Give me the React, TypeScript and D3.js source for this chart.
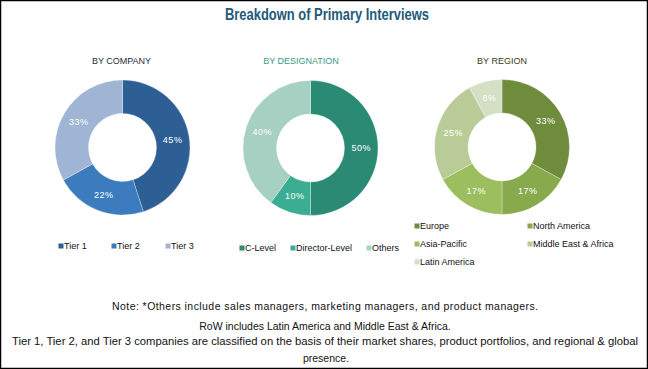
import React from "react";
import * as d3 from "d3";

const companyLabels = ["Tier 1", "Tier 2", "Tier 3"];
const companyValues = [45, 22, 33];
const companyColors = ["#2D5F94", "#3B7BBE", "#A0B4D3"];

const designationLabels = ["C-Level", "Director-Level", "Others"];
const designationValues = [50, 10, 40];
const designationColors = ["#2B8A74", "#3AAD93", "#A6D1C2"];

const regionLabels = ["Europe", "North America", "Asia-Pacific", "Middle East & Africa", "Latin America"];
const regionValues = [33, 17, 17, 25, 8];
const regionColors = ["#6F8C3C", "#88AA4C", "#9DBE5E", "#B9CC98", "#D4DFC5"];

const notes = [
  "Note: *Others include sales managers, marketing managers, and product managers.",
  "RoW includes Latin America and Middle East & Africa.",
  "Tier 1, Tier 2, and Tier 3 companies are classified on the basis of their market shares, product portfolios, and regional & global",
  "presence.",
];

type Donut = {
  title: string;
  titleColor: string;
  cx: number;
  cy: number;
  labels: string[];
  values: number[];
  colors: string[];
  legend: { x: number; y: number }[];
};

const donuts: Donut[] = [
  {
    title: "BY COMPANY",
    titleColor: "#1F2B3A",
    cx: 122.5,
    cy: 147.5,
    labels: companyLabels,
    values: companyValues,
    colors: companyColors,
    legend: [
      { x: 61, y: 246 },
      { x: 114, y: 246 },
      { x: 168, y: 246 },
    ],
  },
  {
    title: "BY DESIGNATION",
    titleColor: "#3A9A88",
    cx: 310.5,
    cy: 148,
    labels: designationLabels,
    values: designationValues,
    colors: designationColors,
    legend: [
      { x: 242, y: 248 },
      { x: 293, y: 248 },
      { x: 369, y: 248 },
    ],
  },
  {
    title: "BY REGION",
    titleColor: "#3C3C22",
    cx: 502,
    cy: 147,
    labels: regionLabels,
    values: regionValues,
    colors: regionColors,
    legend: [
      { x: 417, y: 226 },
      { x: 530, y: 226 },
      { x: 417, y: 244 },
      { x: 530, y: 244 },
      { x: 417, y: 262 },
    ],
  },
];

const titleX = [121.5, 301, 502];

export default function App() {
  const outerR = 67.5;
  const innerR = 34;
  const pie = d3.pie<number>().sort(null).value((d) => d);
  const arc = d3.arc<d3.PieArcDatum<number>>().innerRadius(innerR).outerRadius(outerR);
  const font = "'Liberation Sans', Arial, sans-serif";

  return (
    <svg width={648} height={369} style={{ position: "absolute", left: 0, top: 0 }}>
      <rect x={0.5} y={0.5} width={647} height={368} fill="#fff" stroke="#000" strokeWidth={1.5} />
      <text
        x={327}
        y={20}
        textAnchor="middle"
        fontFamily={font}
        fontWeight="bold"
        fontSize={16}
        fill="#215A7B"
        textLength={204}
        lengthAdjust="spacingAndGlyphs"
      >
        Breakdown of Primary Interviews
      </text>
      {donuts.map((dn, i) => {
        const arcs = pie(dn.values);
        return (
          <g key={dn.title}>
            <text x={titleX[i]} y={64} textAnchor="middle" fontFamily={font} fontSize={9} fill={dn.titleColor}>
              {dn.title}
            </text>
            <g transform={`translate(${dn.cx},${dn.cy})`}>
              {arcs.map((a, j) => (
                <path key={j} d={arc(a) || ""} fill={dn.colors[j]} stroke="#fff" strokeWidth={0.3} />
              ))}
              {arcs.map((a, j) => {
                const [x, y] = arc.centroid(a);
                return (
                  <text
                    key={"l" + j}
                    x={x}
                    y={y}
                    dy="0.35em"
                    textAnchor="middle"
                    fontFamily={font}
                    fontSize={9}
                    fill="#fff"
                    letterSpacing={0.5}
                  >
                    {dn.values[j]}%
                  </text>
                );
              })}
            </g>
            {dn.legend.map((p, j) => (
              <g key={"lg" + j}>
                <rect x={p.x - 2.5} y={p.y - 2.5} width={5} height={5} fill={dn.colors[j]} />
                <text x={p.x + 3} y={p.y} dy="0.35em" fontFamily={font} fontSize={9} fill="#111">
                  {dn.labels[j]}
                </text>
              </g>
            ))}
          </g>
        );
      })}
      <text
        x={325}
        y={310}
        textAnchor="middle"
        fontFamily={font}
        fontSize={10.5}
        fill="#111"
        textLength={426}
        lengthAdjust="spacing"
      >
        {notes[0]}
      </text>
      <text x={325} y={330} textAnchor="middle" fontFamily={font} fontSize={10.5} fill="#111">
        {notes[1]}
      </text>
      <text
        x={325}
        y={345}
        textAnchor="middle"
        fontFamily={font}
        fontSize={10.5}
        fill="#111"
        textLength={626}
        lengthAdjust="spacingAndGlyphs"
      >
        {notes[2]}
      </text>
      <text x={326} y={362} textAnchor="middle" fontFamily={font} fontSize={10.5} fill="#111">
        {notes[3]}
      </text>
    </svg>
  );
}
